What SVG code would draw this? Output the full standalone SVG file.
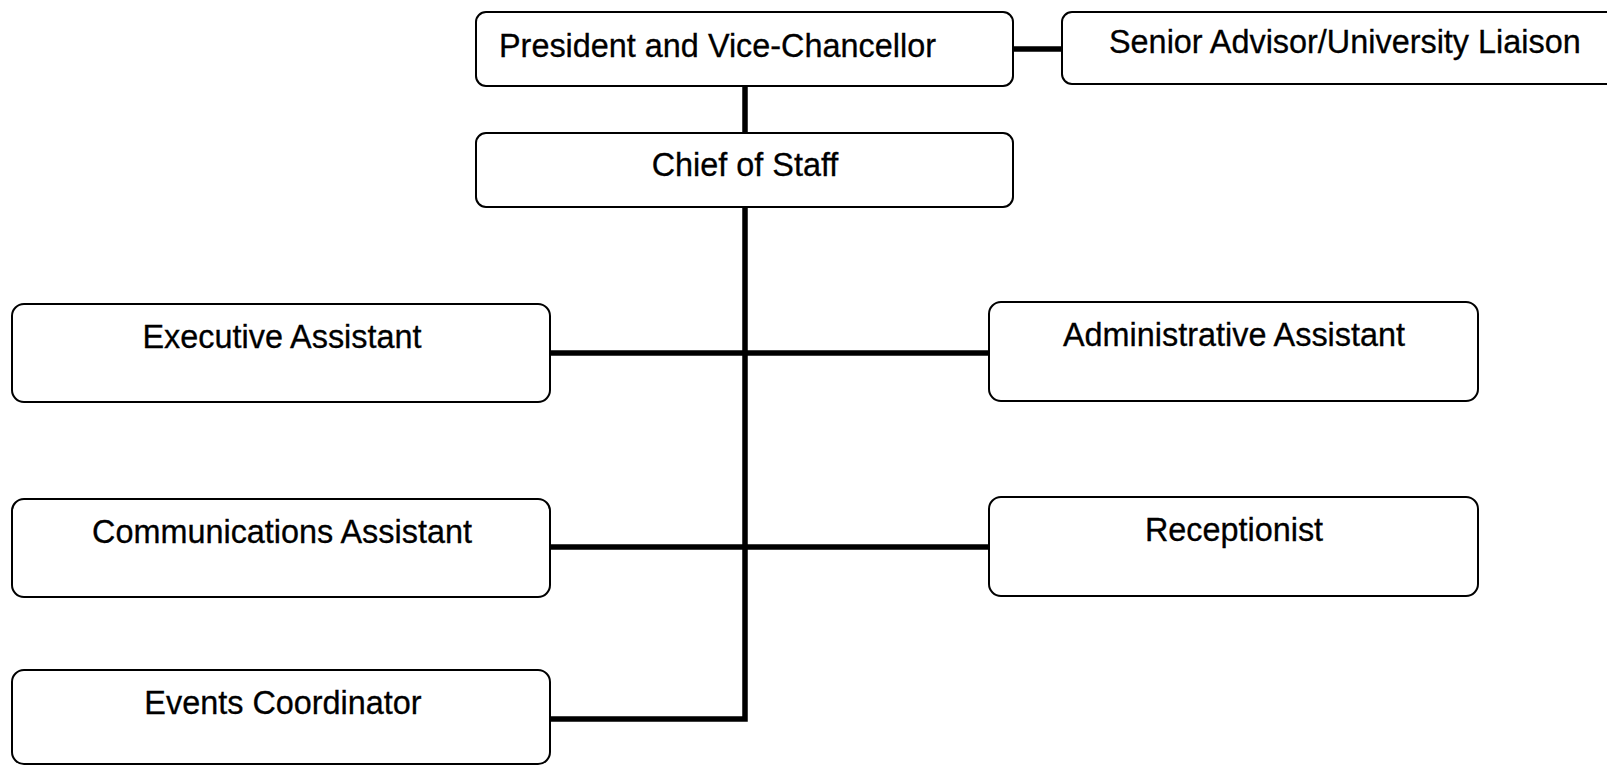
<svg xmlns="http://www.w3.org/2000/svg" width="1607" height="766" viewBox="0 0 1607 766">
  <style>
    .box { fill: #ffffff; stroke: #000000; stroke-width: 2; }
    .lbl { font-family: "Liberation Sans", Arial, sans-serif; font-size: 32.4px; fill: #000000; stroke: #000000; stroke-width: 0.3; }
    .mid { text-anchor: middle; }
    .link { stroke: #000000; stroke-width: 5.5; fill: none; }
  </style>
  <rect width="1607" height="766" fill="#ffffff"/>

  <!-- reporting lines -->
  <g id="connectors">
    <line class="link" x1="1013" y1="49" x2="1062" y2="49"/>
    <line class="link" x1="745" y1="86" x2="745" y2="133"/>
    <polyline class="link" points="745,207 745,719 550,719"/>
    <line class="link" x1="550" y1="353" x2="989" y2="353"/>
    <line class="link" x1="550" y1="547" x2="989" y2="547"/>
  </g>

  <g id="president">
    <rect class="box" x="476" y="12" width="537" height="74" rx="10"/>
    <text class="lbl" x="499" y="57">President and Vice-Chancellor</text>
  </g>
  <g id="senior-advisor">
    <rect class="box" x="1062" y="12" width="560" height="72" rx="10"/>
    <text class="lbl" x="1109" y="53">Senior Advisor/University Liaison</text>
  </g>
  <g id="chief-of-staff">
    <rect class="box" x="476" y="133" width="537" height="74" rx="10"/>
    <text class="lbl mid" x="745" y="176">Chief of Staff</text>
  </g>
  <g id="executive-assistant">
    <rect class="box" x="12" y="304" width="538" height="98" rx="12"/>
    <text class="lbl mid" x="282" y="348">Executive Assistant</text>
  </g>
  <g id="administrative-assistant">
    <rect class="box" x="989" y="302" width="489" height="99" rx="12"/>
    <text class="lbl mid" x="1234" y="346">Administrative Assistant</text>
  </g>
  <g id="communications-assistant">
    <rect class="box" x="12" y="499" width="538" height="98" rx="12"/>
    <text class="lbl mid" x="282" y="543">Communications Assistant</text>
  </g>
  <g id="receptionist">
    <rect class="box" x="989" y="497" width="489" height="99" rx="12"/>
    <text class="lbl mid" x="1234" y="541">Receptionist</text>
  </g>
  <g id="events-coordinator">
    <rect class="box" x="12" y="670" width="538" height="94" rx="12"/>
    <text class="lbl mid" x="283" y="714">Events Coordinator</text>
  </g>
</svg>
